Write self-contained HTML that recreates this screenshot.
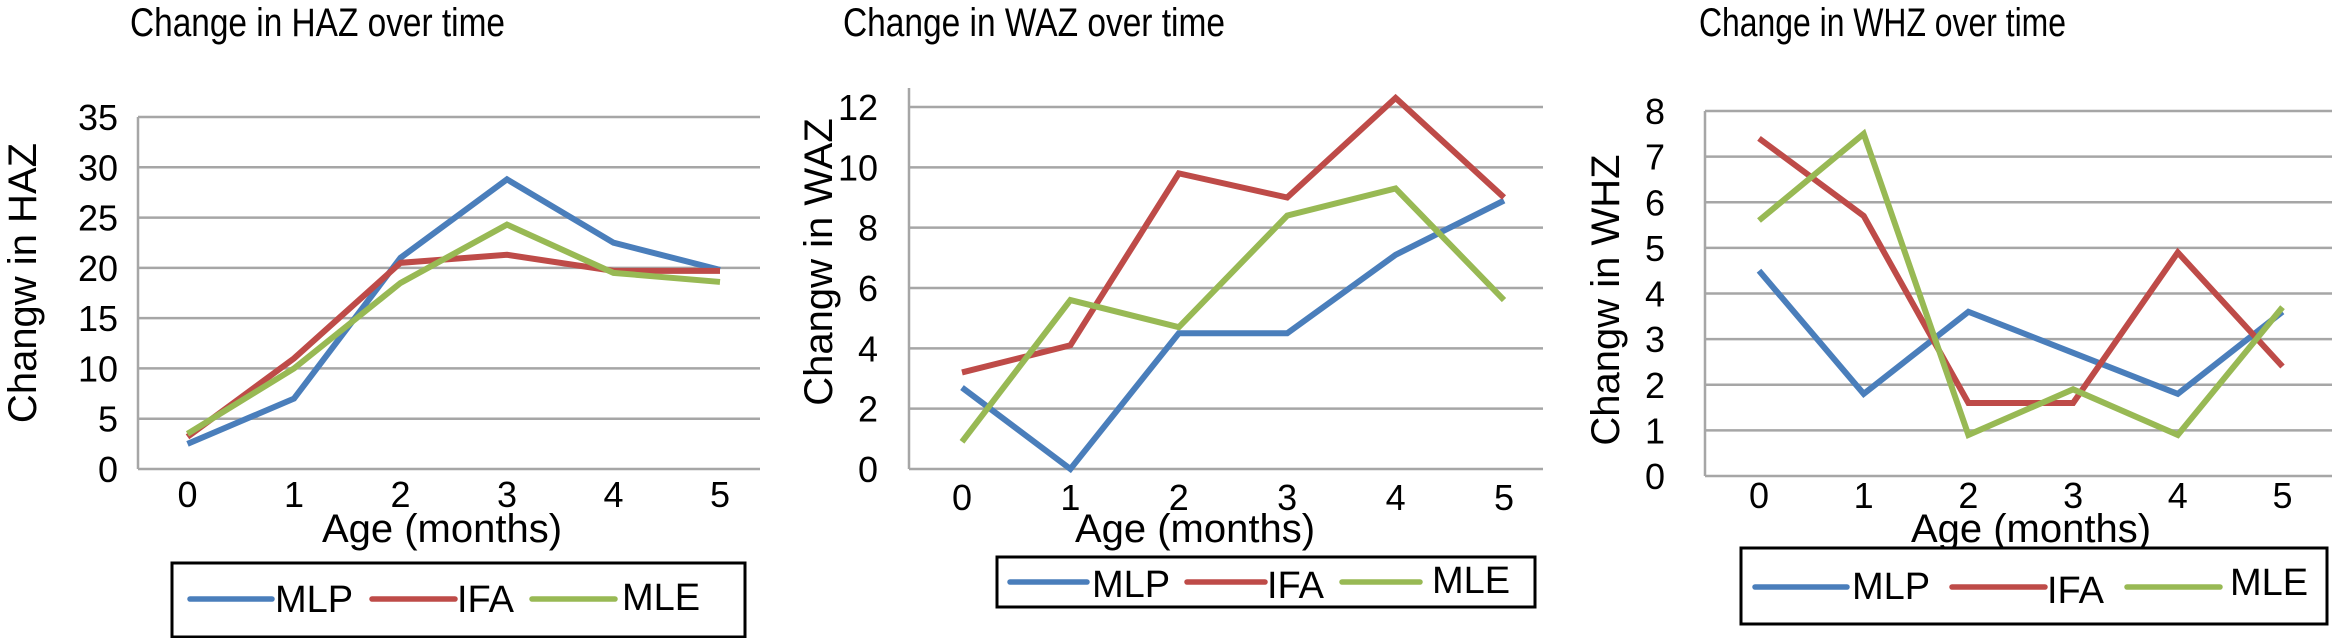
<!DOCTYPE html>
<html><head><meta charset="utf-8"><style>
html,body{margin:0;padding:0;background:#fff;}
svg{display:block;font-family:"Liberation Sans",sans-serif;}
</style></head><body>
<svg id="s" width="2344" height="638" viewBox="0 0 2344 638" xmlns="http://www.w3.org/2000/svg"></svg>
<script>
const categories = [0,1,2,3,4,5];
const seriesNames = ["MLP","IFA","MLE"];
const hazMLP = [2.5,7,21,28.8,22.5,19.8];
const hazIFA = [3.2,11,20.5,21.3,19.7,19.7];
const hazMLE = [3.5,10,18.5,24.3,19.5,18.6];
const hazTicks = [0,5,10,15,20,25,30,35];
const wazMLP = [2.7,0,4.5,4.5,7.1,8.9];
const wazIFA = [3.2,4.1,9.8,9.0,12.3,9.0];
const wazMLE = [0.9,5.6,4.7,8.4,9.3,5.6];
const wazTicks = [0,2,4,6,8,10,12];
const whzMLP = [4.5,1.8,3.6,2.7,1.8,3.6];
const whzIFA = [7.4,5.7,1.6,1.6,4.9,2.4];
const whzMLE = [5.6,7.5,0.9,1.9,0.9,3.7];
const whzTicks = [0,1,2,3,4,5,6,7,8];

const NS="http://www.w3.org/2000/svg";
const svg=document.getElementById('s');
const colors=["#4a7ebb","#be4b48","#98b954"];
function mk(tag,attrs,parent){const e=document.createElementNS(NS,tag);for(const k in attrs)e.setAttribute(k,attrs[k]);(parent||svg).appendChild(e);return e;}

const charts=[
 {key:'haz',title:"Change in HAZ over time",titleX:130,titleW:375,ytitle:"Changw in HAZ",series:[hazMLP,hazIFA,hazMLE],ticks:hazTicks,
  left:138,right:760,x0:187.5,dx:106.5,yTop:117,yBot:469,axisTop:117,yLabelX:118,yTitleX:22,yTitleY:283,xLabelY:507,
  xTitleX:442,legend:{x:172,y:563,w:573,h:74,ly:599,items:[[190,272,275,612],[372,455,457,612],[532,615,622,610]]}},
 {key:'waz',title:"Change in WAZ over time",titleX:843,titleW:382,ytitle:"Changw in WAZ",series:[wazMLP,wazIFA,wazMLE],ticks:wazTicks,
  left:909,right:1543,x0:962,dx:108.4,yTop:107,yBot:469,axisTop:88,yLabelX:878,yTitleX:818,yTitleY:262,xLabelY:510,
  xTitleX:1195,legend:{x:997,y:557,w:538,h:50,ly:582,items:[[1010,1087,1092,597],[1187,1265,1267,598],[1342,1420,1432,593]]}},
 {key:'whz',title:"Change in WHZ over time",titleX:1699,titleW:367,ytitle:"Changw in WHZ",series:[whzMLP,whzIFA,whzMLE],ticks:whzTicks,
  left:1705,right:2332,x0:1759,dx:104.7,yTop:111,yBot:476,axisTop:111,yLabelX:1665,yTitleX:1605,yTitleY:300,xLabelY:508,
  xTitleX:2031,legend:{x:1741,y:548,w:586,h:76,ly:587,items:[[1755,1847,1852,599],[1952,2045,2047,603],[2127,2220,2230,595]]}}
];

charts.forEach(c=>{
  const g=mk('g',{});
  
  
  const maxV=c.ticks[c.ticks.length-1];
  const yS=v=>c.yBot-(v/maxV)*(c.yBot-c.yTop);
  const xS=i=>c.x0+i*c.dx;
  const t=mk('text',{x:c.titleX,y:36,'font-size':40,fill:'#000',textLength:c.titleW,lengthAdjust:'spacingAndGlyphs'},g);t.textContent=c.title;
  
  
  c.ticks.forEach(v=>{
    const l=mk('line',{x1:c.left,x2:c.right,y1:yS(v),y2:yS(v),stroke:'#a6a6a6','stroke-width':2.5},g);
    
    
    const tx=mk('text',{x:c.yLabelX,y:yS(v)+13,'font-size':36,'text-anchor':'end'},g);tx.textContent=v;
    
    
  });
  const ax=mk('line',{x1:c.left,x2:c.left,y1:c.axisTop,y2:c.yBot,stroke:'#a6a6a6','stroke-width':2.5},g);
  
  
  categories.forEach((cat,i)=>{
    const tx=mk('text',{x:xS(i),y:c.xLabelY,'font-size':36,'text-anchor':'middle'},g);tx.textContent=cat;
    
    
  });
  const xt=mk('text',{x:c.xTitleX,y:542,'font-size':40,'text-anchor':'middle'},g);xt.textContent="Age (months)";
  
  
  const yt=mk('text',{x:0,y:0,'font-size':40,'text-anchor':'middle',transform:`translate(${c.yTitleX+14},${c.yTitleY}) rotate(-90)`},g);yt.textContent=c.ytitle;
  
  
  c.series.forEach((s,k)=>{
    const pts=s.map((v,i)=>xS(i)+','+yS(v)).join(' ');
    const p=mk('polyline',{points:pts,fill:'none',stroke:colors[k],'stroke-width':6,'stroke-linejoin':'miter'},g);
    
    
  });
  const L=c.legend;
  const lg=mk('g',{},g);
  
  
  mk('rect',{x:L.x,y:L.y,width:L.w,height:L.h,fill:'#fff',stroke:'#000','stroke-width':3},lg);
  L.items.forEach((it,k)=>{
    const e=mk('g',{},lg);
    
    
    mk('line',{x1:it[0],x2:it[1],y1:L.ly,y2:L.ly,stroke:colors[k],'stroke-width':5.5,'stroke-linecap':'round'},e);
    const tx=mk('text',{x:it[2],y:it[3],'font-size':38},e);tx.textContent=seriesNames[k];
  });
});
</script>
</body></html>
